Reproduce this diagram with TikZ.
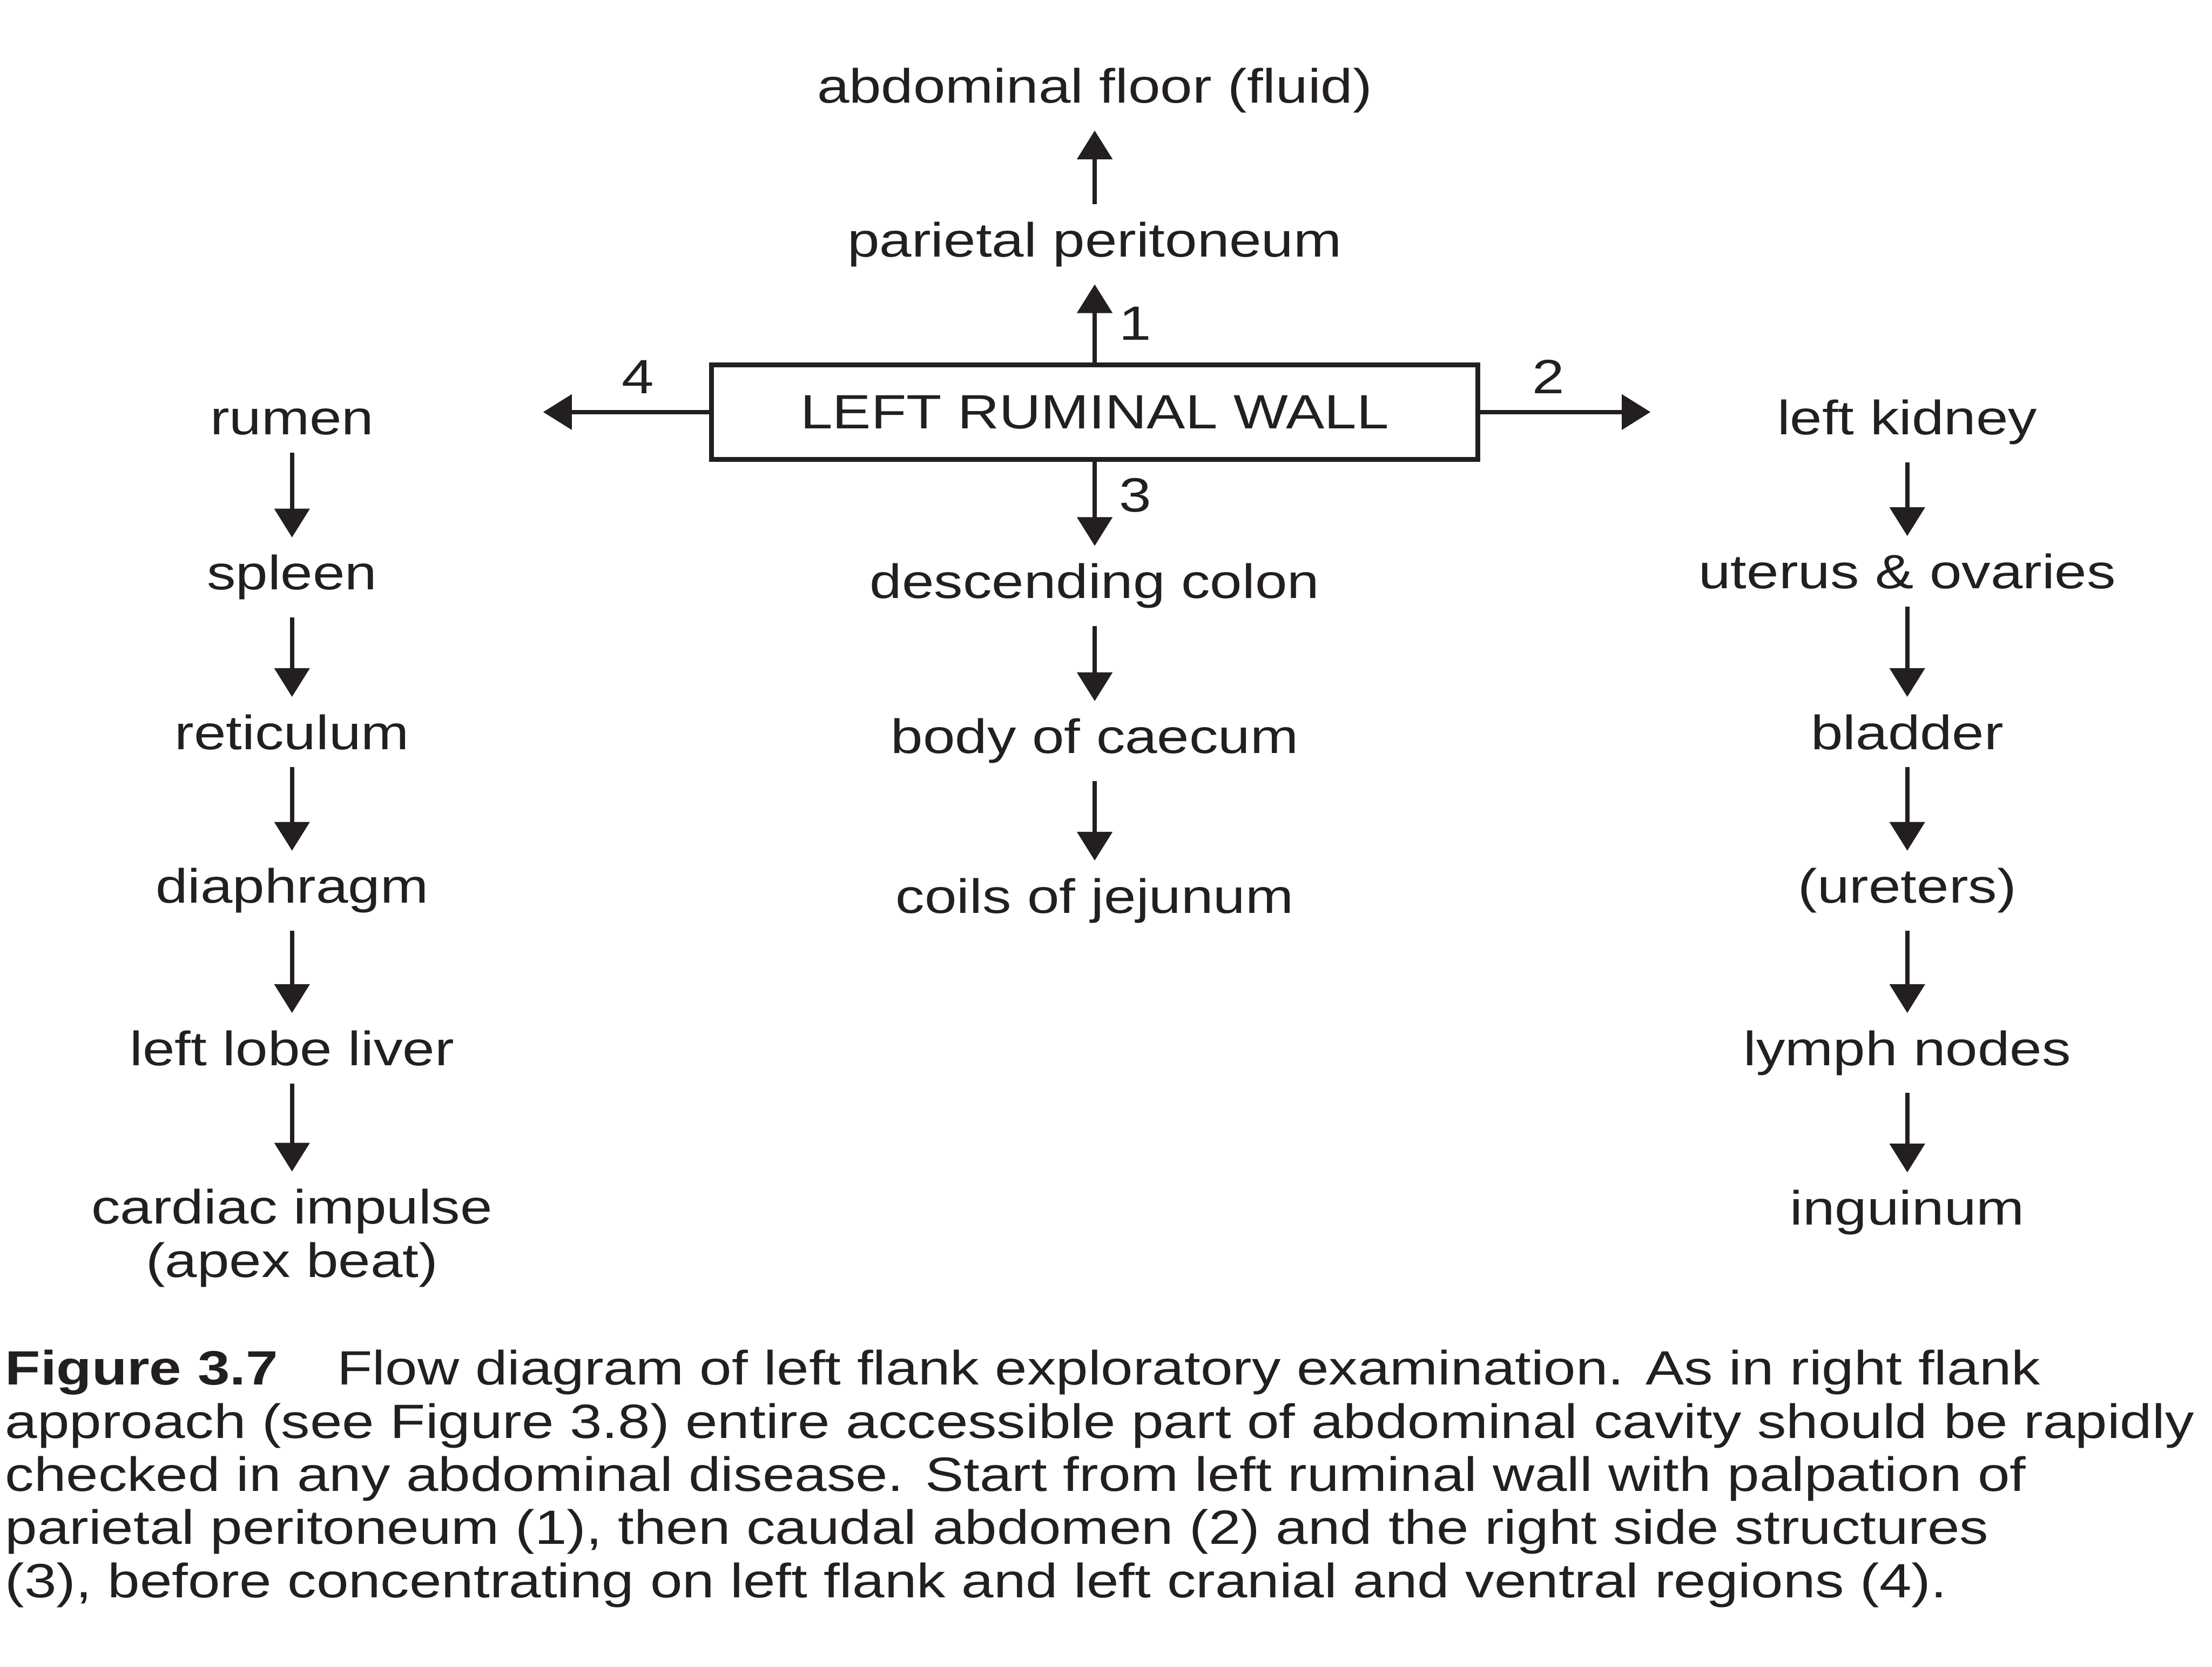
\documentclass[tikz,border=0pt]{standalone}
\usepackage{fontspec}
\setmainfont{Liberation Sans}[FakeStretch=1.2]
\usetikzlibrary{arrows.meta}
\definecolor{ink}{HTML}{231F20}
\begin{document}
\begin{tikzpicture}[x=0.01cm,y=-0.01cm,
  every node/.style={text=ink},
  lbl/.style={anchor=base,font=\fontsize{9.7}{10.7}\selectfont},
  num/.style={font=\fontsize{9.7}{10.7}\selectfont},
  mainbox/.style={draw=ink,line width=0.95pt,minimum width=5.43cm,minimum height=0.67cm,inner sep=0pt,font=\fontsize{9.7}{10.7}\selectfont},
  arr/.style={draw=ink,line width=0.85pt,-{Triangle[width=7pt,length=5.8pt]}}]
\useasboundingbox (0,0) rectangle (1568,1181);
% central box
\node[mainbox] (box) at (776,292) {LEFT RUMINAL WALL};
% top
\node[lbl] (pp) at (776,182) {parietal peritoneum};
\node[lbl] (af) at (776,73) {abdominal floor (fluid)};
% centre column
\node[lbl] (dc) at (776,424) {descending colon};
\node[lbl] (bc) at (776,534) {body of caecum};
\node[lbl] (cj) at (776,647) {coils of jejunum};
% left column
\node[lbl] (ru) at (207,308) {rumen};
\node[lbl] (sp) at (207,418) {spleen};
\node[lbl] (re) at (207,531) {reticulum};
\node[lbl] (di) at (207,640) {diaphragm};
\node[lbl] (ll) at (207,755) {left lobe liver};
\node[lbl,align=center] (ci) at (207,905) {cardiac impulse\\(apex beat)};
% right column
\node[lbl] (lk) at (1352,308) {left kidney};
\node[lbl] (uo) at (1352,417) {uterus \& ovaries};
\node[lbl] (bl) at (1352,531) {bladder};
\node[lbl] (ur) at (1352,640) {(ureters)};
\node[lbl] (ly) at (1352,755) {lymph nodes};
\node[lbl] (in) at (1352,868) {inguinum};
% free ends
\coordinate (lend) at (385,292);
\coordinate (rend) at (1170,292);
% arrows from box
\draw[arr] (box.north) -- node[num,right,xshift=1.2pt] {1} (pp.south);
\draw[arr] (pp.north) -- (af.south);
\draw[arr] (box.east) -- node[num,above,pos=0.4] {2} (rend);
\draw[arr] (box.south) -- node[num,right,xshift=1.2pt,pos=0.4] {3} (dc.north);
\draw[arr] (box.west) -- node[num,above,pos=0.43] {4} (lend);
% chains
\draw[arr] (dc) -- (bc);
\draw[arr] (bc) -- (cj);
\draw[arr] (ru) -- (sp);
\draw[arr] (sp) -- (re);
\draw[arr] (re) -- (di);
\draw[arr] (di) -- (ll);
\draw[arr] (ll) -- (ci);
\draw[arr] (lk) -- (uo);
\draw[arr] (uo) -- (bl);
\draw[arr] (bl) -- (ur);
\draw[arr] (ur) -- (ly);
\draw[arr] (ly) -- (in);
% caption
\node[anchor=base west,inner sep=0pt,align=left,font=\fontsize{9.7}{10.7}\selectfont] (cap) at (3,1132)
{\textbf{Figure 3.7}\hspace{0.9em} Flow diagram of left flank exploratory examination. As in right flank\\
approach (see Figure 3.8) entire accessible part of abdominal cavity should be rapidly\\
checked in any abdominal disease. Start from left ruminal wall with palpation of\\
parietal peritoneum (1), then caudal abdomen (2) and the right side structures\\
(3), before concentrating on left flank and left cranial and ventral regions (4).};
\end{tikzpicture}
\end{document}
